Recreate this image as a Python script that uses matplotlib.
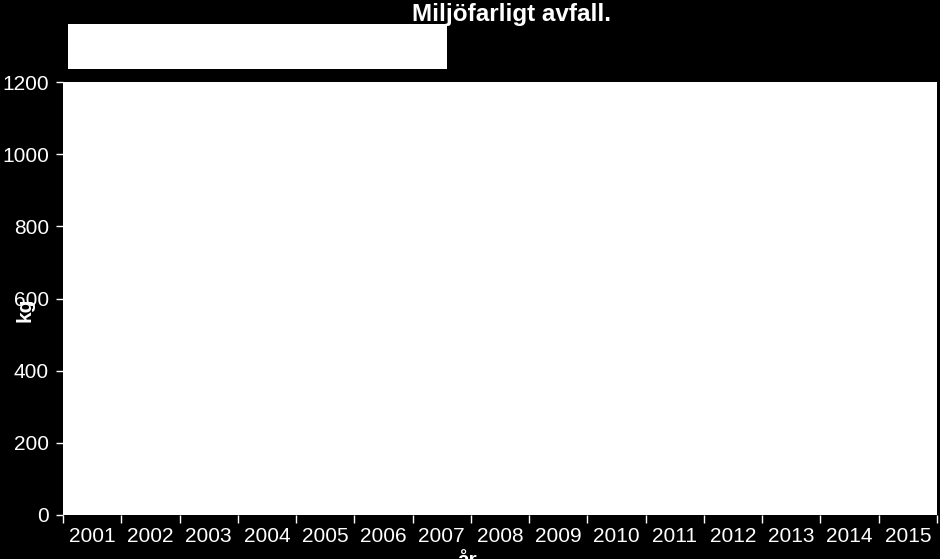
import matplotlib.pyplot as plt
from matplotlib.patches import Rectangle
import numpy as np

plt.rcParams['font.family'] = ['Liberation Sans', 'DejaVu Sans']

# data: years shown, no visible values in the chart
years = ['2001', '2002', '2003', '2004', '2005', '2006', '2007', '2008',
         '2009', '2010', '2011', '2012', '2013', '2014', '2015']
kg = [0, 0, 0, 0, 0, 0, 0, 0, 0, 0, 0, 0, 0, 0, 0]
yticks = [0, 200, 400, 600, 800, 1000, 1200]

fig = plt.figure(figsize=(9.4, 5.59), dpi=100, facecolor='black')
ax = fig.add_axes([63 / 940, 44 / 559, 874 / 940, 433 / 559])
ax.set_facecolor('white')

x = np.arange(len(years))
ax.bar(x, kg, width=0.6, color='#4f81bd')

ax.set_xlim(-0.5, len(years) - 0.5)
ax.set_ylim(0, 1200)
ax.set_yticks(yticks)
ax.set_xticks(np.arange(len(years) + 1) - 0.5)
ax.set_xticklabels([])
ax.set_xticks(x, minor=True)
ax.set_xticklabels(years, minor=True)

ax.tick_params(axis='y', colors='white', labelsize=15, length=5, width=1, pad=5)
ax.tick_params(axis='x', which='major', colors='white', length=6, width=1)
ax.tick_params(axis='x', which='minor', colors='white', labelsize=15, length=0, pad=9)
for s in ax.spines.values():
    s.set_visible(False)

fig.text(512 / 940, 1 - 14 / 559, 'Miljöfarligt avfall.', color='white',
         fontsize=17.5, fontweight='bold', ha='center', va='center')
fig.text(25 / 940, 1 - 310 / 559, 'kg', color='white', fontsize=15,
         fontweight='bold', rotation=90, ha='center', va='center')
fig.text(467 / 940, 1 - 561 / 559, 'år', color='white', fontsize=15,
         fontweight='bold', ha='center', va='center')

# empty legend box
fig.patches.append(Rectangle((68 / 940, 1 - 69 / 559), 379 / 940, 45 / 559,
                             transform=fig.transFigure, facecolor='white',
                             edgecolor='none'))

fig.savefig('out.png', dpi=100, facecolor='black')
